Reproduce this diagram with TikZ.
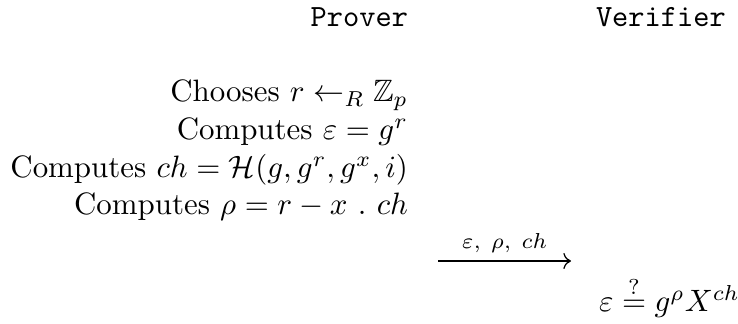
\documentclass[tikz,border=0pt]{standalone}
\usepackage{amsmath,amssymb}
\usetikzlibrary{arrows.meta}
\begin{document}
\begin{tikzpicture}[x=0.3236pt,y=-0.3236pt,
  txt/.style={inner sep=0pt,outer sep=0pt},
  msg/.style={line width=0.4pt,-{Computer Modern Rightarrow[]}}]
\useasboundingbox (0,0) rectangle (738,324);
\node[txt,anchor=base east] (prover) at (408,27) {\texttt{Prover}};
\node[txt,anchor=base west] (verifier) at (596,27) {\texttt{Verifier}};
\node[txt,anchor=base east] (r1) at (408,102) {Chooses $r \leftarrow_R \mathbb{Z}_p$};
\node[txt,anchor=base east] (r2) at (408,140) {Computes $\varepsilon = g^r$};
\node[txt,anchor=base east] (r3) at (408,178) {Computes $ch = \mathcal{H}(g,g^r,g^x,i)$};
\node[txt,anchor=base east] (r4) at (408,215) {Computes $\rho = r - x\ .\ ch$};
\coordinate (a1) at (438,261);
\coordinate (a2) at (571,261);
\draw[msg] (a1) -- node[above=2.5pt,inner sep=0pt] (lbl) {$\scriptstyle \varepsilon,\ \rho,\ ch$} (a2);
\node[txt,anchor=base west] (eq) at (599,312) {$\varepsilon \stackrel{?}{=} g^{\rho} X^{ch}$};
\end{tikzpicture}
\end{document}
